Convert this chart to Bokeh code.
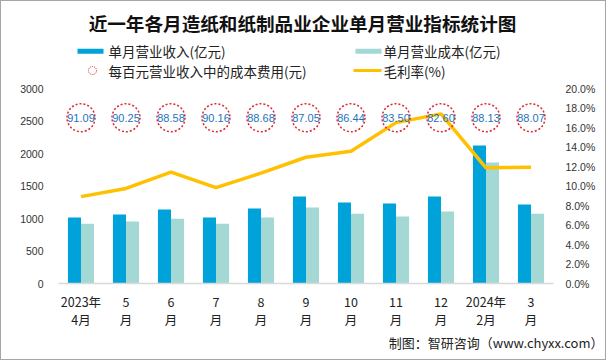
from bokeh.plotting import figure
from bokeh.layouts import column
from bokeh.models import (ColumnDataSource, Range1d, LinearAxis, SingleIntervalTicker,
                          PrintfTickFormatter, BasicTickFormatter)
from bokeh.transform import dodge
from bokeh.core.properties import value
from bokeh.embed import file_html
from bokeh.resources import INLINE

# ---------------- data ----------------
months = ["2023年\n4月", "5\n月", "6\n月", "7\n月", "8\n月", "9\n月", "10\n月",
          "11\n月", "12\n月", "2024年\n2月", "3\n月"]
revenue = [1015, 1060, 1137, 1015, 1153, 1338, 1245, 1230, 1338, 2125, 1214]
cost = [921, 952, 998, 921, 1014, 1168, 1075, 1029, 1106, 1862, 1075]
cost_per_100 = [91.09, 90.25, 88.58, 90.16, 88.68, 87.05, 86.44, 83.50, 82.60, 88.13, 88.07]
gross_margin = [8.91, 9.75, 11.42, 9.84, 11.32, 12.95, 13.56, 16.50, 17.40, 11.87, 11.93]
CIRCLE_Y = 2550

title_text = "近一年各月造纸和纸制品业企业单月营业指标统计图"
legend_labels = ["单月营业收入(亿元)", "单月营业成本(亿元)", "每百元营业收入中的成本费用(元)", "毛利率(%)"]
footer_text = "制图：智研咨询（www.chyxx.com）"

BLUE = "#00a2da"
TEAL = "#a3d8d5"
GOLD = "#ffc000"
RED = "#e3262f"
NUM_BLUE = "#1f72b8"
TXT = "#222222"
CJK = "Noto Sans CJK SC"
NUM = "Liberation Sans"

W = 604          # inner width (1px border around)
H_HEAD, H_MAIN, H_FOOT = 79, 254, 25


def blank_fig(h, y0, y1):
    f = figure(width=W, height=h, x_range=Range1d(1, 1 + W), y_range=Range1d(y1, y0),
               x_axis_type=None, y_axis_type=None, output_backend="svg",
               toolbar_location=None, min_border=0)
    f.outline_line_color = None
    f.xgrid.visible = False
    f.ygrid.visible = False
    return f


# ---------------- header: title + legend ----------------
head = blank_fig(H_HEAD, 1, 1 + H_HEAD)
head.text(x=[302], y=[22], text=[title_text], text_align="center", text_baseline="middle",
          text_font=value(CJK), text_font_style="bold", text_font_size="18.6px", text_color="#111111")
head.quad(left=[77], right=[103], top=[48.3], bottom=[53.3], fill_color=BLUE, line_color=None)
head.quad(left=[355], right=[381], top=[48.3], bottom=[53.3], fill_color=TEAL, line_color=None)
head.scatter(x=[92], y=[70], size=8, marker="circle", fill_color=None, line_color=RED,
             line_width=1, line_dash="1 1")
head.segment(x0=[353], x1=[381], y0=[70], y1=[70], line_color=GOLD, line_width=3)
head.text(x=[108, 383, 108, 383], y=[50.7, 50.7, 70, 70], text=legend_labels,
          text_align="left", text_baseline="middle", text_font=value(CJK),
          text_font_size="13.5px", text_color=TXT)

# ---------------- main chart ----------------
src = ColumnDataSource(dict(
    x=months, rev=revenue, cost=cost, gm=gross_margin,
    cy=[CIRCLE_Y] * len(months),
    lbl=["%.2f" % v for v in cost_per_100],
))

FL, FT, FW, FH = 57, 8, 495, 195
p = figure(x_range=months, y_range=Range1d(0, 3000),
           frame_width=FW, frame_height=FH,
           min_border_left=FL, min_border_right=W - FL - FW, min_border_top=FT,
           min_border_bottom=H_MAIN - FT - FH,
           output_backend="svg", toolbar_location=None)
p.outline_line_color = None
p.xgrid.visible = False
p.ygrid.visible = False
p.x_range.range_padding = 0
p.extra_y_ranges = {"pct": Range1d(0, 20)}

r_rev = p.vbar(x=dodge("x", -0.145, range=p.x_range), top="rev", width=0.29, source=src,
               fill_color=BLUE, line_color=None)
r_cost = p.vbar(x=dodge("x", 0.145, range=p.x_range), top="cost", width=0.29, source=src,
                fill_color=TEAL, line_color=None)
p.line(x="x", y="gm", source=src, y_range_name="pct", line_color=GOLD, line_width=3.5)
p.scatter(x="x", y="cy", source=src, size=28, marker="circle", fill_color=None,
          line_color=RED, line_width=1.5, line_dash="2 2")
p.text(x="x", y="cy", text="lbl", source=src, text_align="center", text_baseline="middle",
       text_font=value(NUM), text_font_size="11px", text_color=NUM_BLUE)

ya = p.yaxis[0]
ya.ticker = SingleIntervalTicker(interval=500)
ya.formatter = BasicTickFormatter(use_scientific=False)
ra = LinearAxis(y_range_name="pct", ticker=SingleIntervalTicker(interval=2),
                formatter=PrintfTickFormatter(format="%.1f%%"))
p.add_layout(ra, "right")
for ax, so in ((ya, 11), (ra, 8)):
    ax.axis_line_color = None
    ax.major_tick_line_color = None
    ax.minor_tick_line_color = None
    ax.major_tick_out = 0
    ax.major_tick_in = 0
    ax.major_label_standoff = so
    ax.major_label_text_font = NUM
    ax.major_label_text_font_size = "10.5px"
    ax.major_label_text_color = "#333333"

xa = p.xaxis[0]
xa.axis_line_color = "#d9d9d9"
xa.axis_line_width = 1.5
xa.major_tick_line_color = None
xa.minor_tick_line_color = None
xa.major_tick_out = 0
xa.major_tick_in = 0
xa.major_label_standoff = 8
xa.major_label_text_font = CJK
xa.major_label_text_font_size = "12.5px"
xa.major_label_text_color = TXT
xa.major_label_text_line_height = 0.98

# ---------------- footer ----------------
foot = blank_fig(H_FOOT, 1 + H_HEAD + H_MAIN, 1 + H_HEAD + H_MAIN + H_FOOT)
foot.text(x=[603], y=[342], text=[footer_text], text_align="right", text_baseline="middle",
          text_font=value(CJK), text_font_size="13px", text_color=TXT)

layout = column(head, column(p), foot, spacing=0, styles={"border": "1px solid #a6a6a6"})
open("out.html", "w").write(file_html(layout, INLINE))
